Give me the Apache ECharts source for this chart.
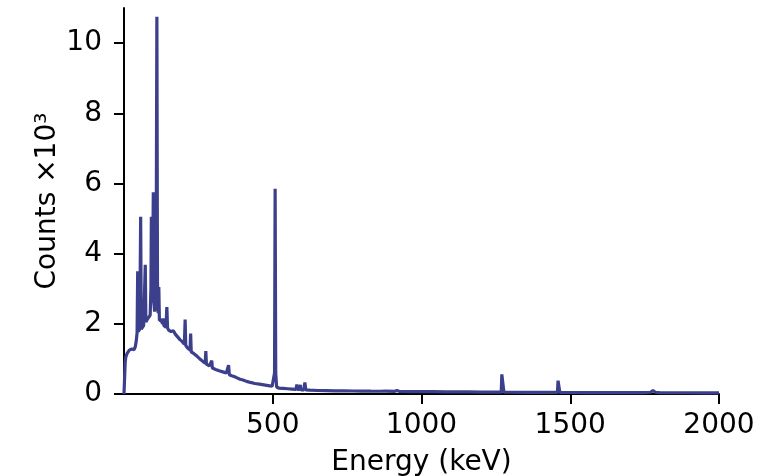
<!DOCTYPE html>
<html>
<head>
<meta charset="utf-8">
<script src="https://cdn.jsdelivr.net/npm/echarts@6/dist/echarts.min.js"></script>
<style>
html,body{margin:0;padding:0;background:#fff;}
#chart{width:783px;height:476px;}
</style>
</head>
<body>
<div id="chart"></div>
<script>
// Energy (keV) of each sampled point
var energy = [
  0, 2, 4, 6, 8, 10, 14, 18, 22, 26, 30, 34, 38, 41, 44, 46, 47.5, 50, 53, 56, 58,
  62, 66, 69, 71.5, 73.5, 77, 80, 84, 88, 90.5, 92, 94, 96, 98.5, 100.5, 103, 106, 108,
  110.5, 112.5, 115, 117, 119, 122, 126, 129, 131, 134, 138, 141, 144, 146.5, 150, 154,
  158, 162, 166, 170, 173, 177, 181, 185, 188, 192, 195, 199, 203, 205.5, 207.5, 211,
  215, 219, 222, 224, 226, 230, 235, 240, 245, 250, 255, 260, 265, 270, 273, 275, 277,
  282, 287, 292, 295, 297, 302, 308, 314, 320, 326, 332, 338, 344, 349, 351.5, 354, 362,
  370, 380, 390, 400, 412, 425, 440, 455, 470, 485, 498, 503, 506, 508, 510, 513, 520,
  535, 550, 565, 578, 581, 583, 590, 593, 595, 605, 608, 611, 625, 650, 680, 710, 740,
  770, 800, 830, 860, 880, 910, 918, 925, 960, 1000, 1040, 1080, 1120, 1160, 1200, 1240,
  1268, 1270, 1274, 1277, 1300, 1350, 1400, 1440, 1457, 1459, 1462, 1465, 1500, 1550,
  1600, 1650, 1700, 1750, 1770, 1778, 1786, 1800, 1850, 1900, 1950, 2000
];
// Counts (x10^3) at each energy above
var counts = [
  0, 0.05, 0.9, 1.05, 1.0, 1.15, 1.2, 1.25, 1.22, 1.28, 1.3, 1.26, 1.35, 1.5, 1.75, 3.5, 1.78, 1.8, 1.85, 5.05, 1.85,
  1.9, 1.95, 2.0, 3.68, 2.05, 2.1, 2.15, 2.2, 2.25, 3.0, 5.05, 2.6, 3.0, 5.75, 2.6, 2.35, 2.5, 3.5,
  10.75, 3.2, 2.3, 3.05, 2.1, 2.05, 2.1, 2.0, 2.15, 1.95, 1.98, 1.9, 2.48, 1.88, 1.82, 1.85,
  1.78, 1.75, 1.8, 1.85, 1.7, 1.68, 1.62, 1.58, 1.55, 1.6, 1.5, 1.45, 1.42, 2.12, 1.38, 1.35,
  1.3, 1.28, 1.25, 1.72, 1.2, 1.2, 1.15, 1.1, 1.08, 1.03, 1.0, 0.97, 0.93, 0.9, 0.88, 1.22, 0.85,
  0.83, 0.8, 0.77, 0.95, 0.74, 0.73, 0.7, 0.68, 0.66, 0.64, 0.63, 0.6, 0.6, 0.58, 0.82, 0.55, 0.52,
  0.5, 0.46, 0.42, 0.4, 0.36, 0.33, 0.3, 0.28, 0.26, 0.24, 0.22, 0.23, 0.6, 5.85, 0.6, 0.2, 0.17,
  0.16, 0.15, 0.14, 0.13, 0.27, 0.13, 0.13, 0.26, 0.12, 0.12, 0.33, 0.12, 0.11, 0.1, 0.095, 0.09, 0.088,
  0.085, 0.083, 0.08, 0.078, 0.08, 0.075, 0.1, 0.075, 0.07, 0.068, 0.065, 0.062, 0.06, 0.058, 0.055, 0.053,
  0.052, 0.56, 0.56, 0.05, 0.05, 0.048, 0.046, 0.045, 0.045, 0.38, 0.38, 0.045, 0.043, 0.042,
  0.04, 0.04, 0.038, 0.038, 0.05, 0.1, 0.05, 0.037, 0.036, 0.035, 0.034, 0.033
];
var xTicks = [500, 1000, 1500, 2000];
var yTicks = [0, 2, 4, 6, 8, 10];
var xName = 'Energy (keV)';
var yName = 'Counts \u00d710\u00b3';

var data = energy.map(function (e, i) { return [e, counts[i]]; });
var font = 'DejaVu Sans';
var fs = 28;
var chart = echarts.init(document.getElementById('chart'), null, {renderer: 'canvas'});
chart.setOption({
  animation: false,
  backgroundColor: '#ffffff',
  grid: {left: 124, right: 64, top: 8, bottom: 82, containLabel: false, outerBoundsMode: 'none'},
  xAxis: {
    type: 'value', min: 0, max: 2000,
    name: xName, nameLocation: 'middle', nameGap: 55,
    nameTextStyle: {fontFamily: font, fontSize: fs, color: '#000'},
    axisLine: {show: true, lineStyle: {color: '#000', width: 2}},
    axisTick: {show: true, length: 10, lineStyle: {color: '#000', width: 2}, customValues: xTicks},
    axisLabel: {show: true, fontFamily: font, fontSize: fs, color: '#000', margin: 18, customValues: xTicks,
      formatter: function (v) { return String(v); }},
    splitLine: {show: false}
  },
  yAxis: {
    type: 'value', min: 0, max: 11,
    name: yName, nameLocation: 'middle', nameGap: 62, nameMoveOverlap: false,
    nameTextStyle: {fontFamily: font, fontSize: fs, color: '#000'},
    axisLine: {show: true, lineStyle: {color: '#000', width: 2}},
    axisTick: {show: true, length: 10, lineStyle: {color: '#000', width: 2}, customValues: yTicks},
    axisLabel: {show: true, fontFamily: font, fontSize: fs, color: '#000', margin: 22, customValues: yTicks,
      formatter: function (v) { return String(v); }},
    splitLine: {show: false}
  },
  series: [{
    type: 'line', data: data, showSymbol: false, symbol: 'none', smooth: false,
    lineStyle: {color: '#3b3f8c', width: 3.2},
    clip: false
  }]
});
</script>
</body>
</html>
